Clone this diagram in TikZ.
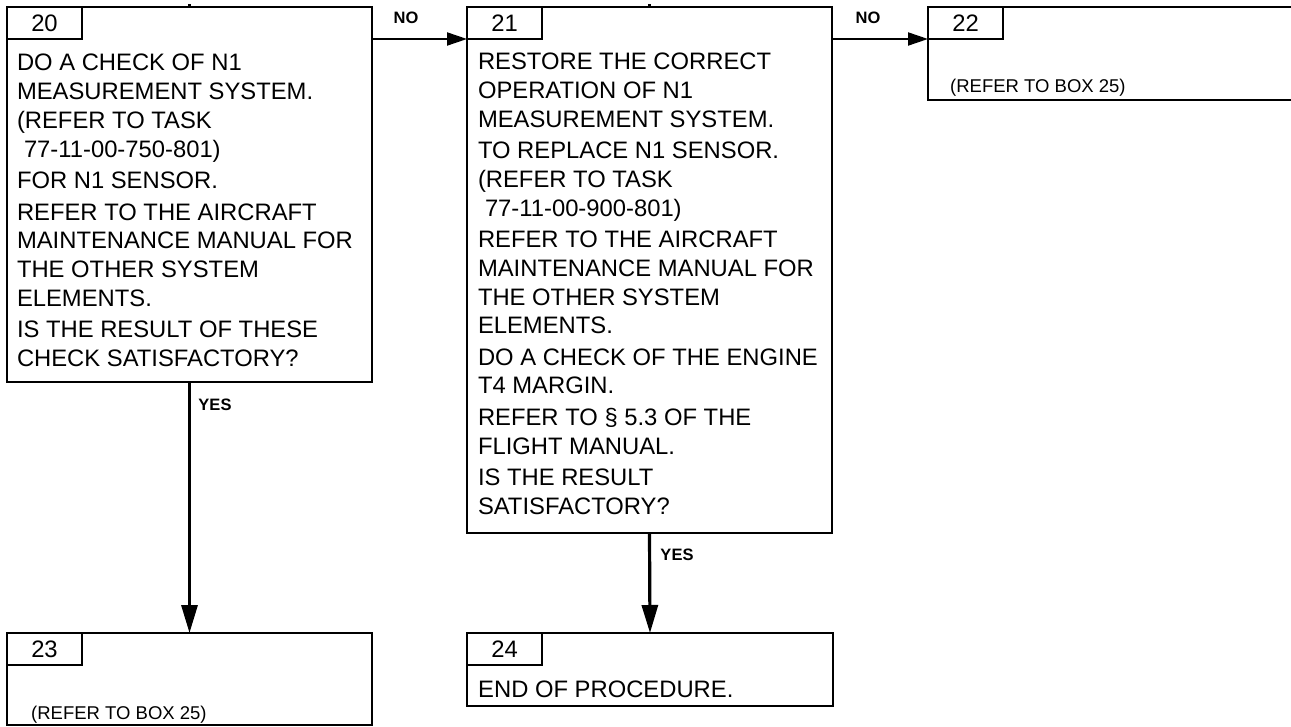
\documentclass[tikz,border=0pt]{standalone}
\usepackage{fontspec}
\setmainfont{Liberation Sans}
\usetikzlibrary{arrows.meta,calc}
\begin{document}
\begin{tikzpicture}[x=1pt,y=-1pt,
  box/.style={draw,line width=2.2pt,rectangle,anchor=north west,inner sep=0pt,outer sep=0pt},
  tab/.style={draw,line width=2pt,rectangle,anchor=north west,minimum width=75pt,minimum height=32pt,inner sep=0pt,outer sep=0pt,font=\fontsize{23.8}{28.8}\selectfont},
  body/.style={anchor=north west,inner sep=0pt,outer sep=0pt,align=left,font=\fontsize{23.8}{28.8}\selectfont},
  smalltext/.style={anchor=base west,inner sep=0pt,font=\fontsize{18.5}{22}\selectfont},
  lbl/.style={inner sep=0pt,font=\fontsize{16.5}{19}\selectfont\bfseries},
  harrow/.style={line width=2pt,-{Triangle[length=20pt,width=13pt]}},
  varrow/.style={line width=3.2pt,-{Triangle[length=28pt,width=16pt]}},
  stub/.style={line width=3pt}
]
\useasboundingbox (0,0) rectangle (1291,727);
% boxes
\node[box,minimum width=365pt,minimum height=375pt] (b20) at (7,7) {};
\node[box,minimum width=365pt,minimum height=526pt] (b21) at (467,7) {};
\node[box,minimum width=420pt,minimum height=93pt] (b22) at (928,7) {};
\node[box,minimum width=365pt,minimum height=92pt] (b23) at (7,633) {};
\node[box,minimum width=366pt,minimum height=73pt] (b24) at (467,633) {};
% tabs
\node[tab] (t20) at (b20.north west) {20};
\node[tab] (t21) at (b21.north west) {21};
\node[tab] (t22) at (b22.north west) {22};
\node[tab] (t23) at (b23.north west) {23};
\node[tab] (t24) at (b24.north west) {24};
% texts
\node[body] (x20) at (17,54) {DO A CHECK OF N1\\ MEASUREMENT SYSTEM.\\ (REFER TO TASK\\ \hspace*{7pt}77-11-00-750-801)\\[2.7pt]
FOR N1 SENSOR.\\[2.7pt]
REFER TO THE AIRCRAFT\\ MAINTENANCE MANUAL FOR\\ THE OTHER SYSTEM\\ ELEMENTS.\\[2.7pt]
IS THE RESULT OF THESE\\ CHECK SATISFACTORY?};
\node[body] (x21) at (478,53) {RESTORE THE CORRECT\\ OPERATION OF N1\\ MEASUREMENT SYSTEM.\\[2.5pt]
TO REPLACE N1 SENSOR.\\ (REFER TO TASK\\ \hspace*{7pt}77-11-00-900-801)\\[2.5pt]
REFER TO THE AIRCRAFT\\ MAINTENANCE MANUAL FOR\\ THE OTHER SYSTEM\\ ELEMENTS.\\[2.5pt]
DO A CHECK OF THE ENGINE\\ T4 MARGIN.\\[2.5pt]
REFER TO \S\ 5.3 OF THE\\ FLIGHT MANUAL.\\[2.5pt]
IS THE RESULT\\ SATISFACTORY?};
\node[smalltext] (x22) at (950,93) {(REFER TO BOX 25)};
\node[smalltext] (x23) at (31,719) {(REFER TO BOX 25)};
\node[anchor=base west,inner sep=0pt,font=\fontsize{23.8}{28.8}\selectfont] (x24) at (478,697) {END OF PROCEDURE.};
% connectors
\draw[harrow] (b20.east |- t21.south west) -- (t21.south west);
\draw[harrow] (b21.east |- t22.south west) -- (t22.south west);
\draw[varrow] (b20.south) -- (b23.north);
\draw[varrow] (b21.south) -- (b24.north);
% incoming stubs from above
\coordinate (s20) at ($(b20.north)+(0,-2.5)$);
\coordinate (s21) at ($(b21.north)+(0,-2.5)$);
\draw[stub] (s20) -- (b20.north);
\draw[stub] (s21) -- (b21.north);
% labels
\node[lbl] (no1) at (406,18) {NO};
\node[lbl] (no2) at (868,18) {NO};
\node[lbl] (yes1) at (215,405) {YES};
\node[lbl] (yes2) at (677,555) {YES};
\end{tikzpicture}
\end{document}
